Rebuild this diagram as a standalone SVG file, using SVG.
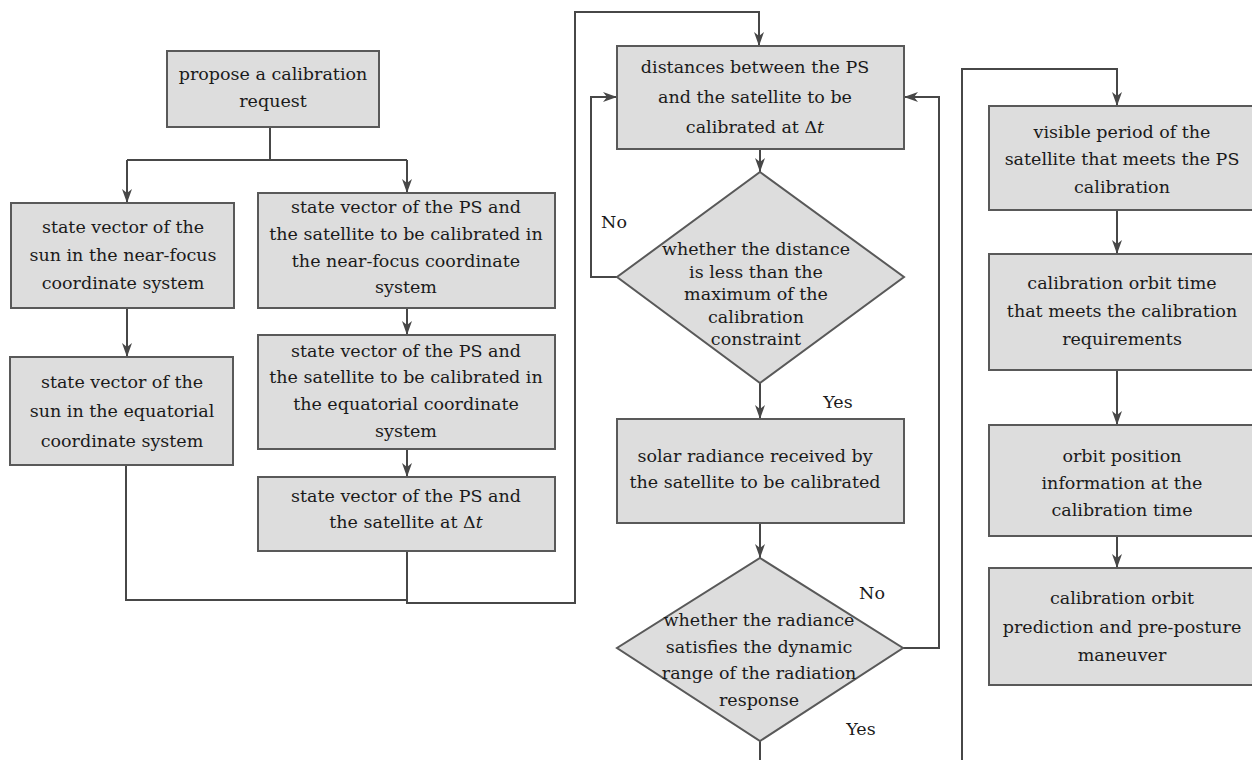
<svg xmlns="http://www.w3.org/2000/svg" width="1252" height="760" viewBox="0 0 1252 760">
<style>
.box{fill:#dddddd;stroke:#595959;stroke-width:2}
.ln{fill:none;stroke:#474747;stroke-width:2}
.arr{marker-end:url(#ah)}
text{font-family:"DejaVu Serif","Liberation Serif",serif;font-size:17.5px;fill:#1a1a1a;text-anchor:middle}
</style>
<defs>
<marker id="ah" viewBox="0 0 14 10" refX="14" refY="5" markerWidth="14" markerHeight="10" markerUnits="userSpaceOnUse" orient="auto">
<path d="M0,0 L14,5 L0,10 L4,5 z" fill="#474747"/>
</marker>
</defs>
<rect width="1252" height="760" fill="#ffffff"/>
<g id="connectors">
<path class="ln" d="M270,127 V160 M127,160 H407 M126,465 V600 H407"/>
<path class="ln arr" d="M127,160 V203"/>
<path class="ln arr" d="M407,160 V193"/>
<path class="ln arr" d="M127,308 V357"/>
<path class="ln arr" d="M407,308 V335"/>
<path class="ln arr" d="M407,449 V477"/>
<path class="ln arr" d="M407,551 V603 H575 V12 H759 V46"/>
<path class="ln arr" d="M760,149 V172"/>
<path class="ln arr" d="M760,383 V419"/>
<path class="ln arr" d="M760,523 V558"/>
<path class="ln" d="M760,741 V760"/>
<path class="ln arr" d="M617,277 H591 V97 H617"/>
<path class="ln arr" d="M903,648 H939 V97 H904"/>
<path class="ln arr" d="M962,760 V69 H1117 V106"/>
<path class="ln arr" d="M1117,210 V254"/>
<path class="ln arr" d="M1117,370 V425"/>
<path class="ln arr" d="M1117,536 V568"/>
</g>
<g id="n-propose"><rect class="box" x="167" y="51" width="212" height="76"/>
<text x="273" y="80">propose a calibration</text><text x="273" y="107">request</text></g>
<g id="n-sun-nf"><rect class="box" x="11" y="203" width="223" height="105"/>
<text x="123" y="233">state vector of the</text><text x="123" y="261">sun in the near-focus</text><text x="123" y="289">coordinate system</text></g>
<g id="n-sun-eq"><rect class="box" x="10" y="357" width="223" height="108"/>
<text x="122" y="388">state vector of the</text><text x="122" y="417">sun in the equatorial</text><text x="122" y="447">coordinate system</text></g>
<g id="n-ps-nf"><rect class="box" x="258" y="193" width="297" height="115"/>
<text x="406" y="213">state vector of the PS and</text><text x="406" y="240">the satellite to be calibrated in</text><text x="406" y="267">the near-focus coordinate</text><text x="406" y="293">system</text></g>
<g id="n-ps-eq"><rect class="box" x="258" y="335" width="297" height="114"/>
<text x="406" y="357">state vector of the PS and</text><text x="406" y="383">the satellite to be calibrated in</text><text x="406" y="410">the equatorial coordinate</text><text x="406" y="437">system</text></g>
<g id="n-ps-dt"><rect class="box" x="258" y="477" width="297" height="74"/>
<text x="406" y="502">state vector of the PS and</text><text x="406" y="528">the satellite at Δ<tspan font-style="italic">t</tspan></text></g>
<g id="n-dist"><rect class="box" x="617" y="46" width="287" height="103"/>
<text x="755" y="73">distances between the PS</text><text x="755" y="103">and the satellite to be</text><text x="755" y="133">calibrated at Δ<tspan font-style="italic">t</tspan></text></g>
<g id="n-dec1"><polygon class="box" points="760,172 904,277 760,383 617,277"/>
<text x="756" y="255">whether the distance</text><text x="756" y="278">is less than the</text><text x="756" y="300">maximum of the</text><text x="756" y="323">calibration</text><text x="756" y="345">constraint</text></g>
<g id="n-solar"><rect class="box" x="617" y="419" width="287" height="104"/>
<text x="755" y="462">solar radiance received by</text><text x="755" y="488">the satellite to be calibrated</text></g>
<g id="n-dec2"><polygon class="box" points="760,558 903,648 760,741 617,648"/>
<text x="759" y="626">whether the radiance</text><text x="759" y="653">satisfies the dynamic</text><text x="759" y="679">range of the radiation</text><text x="759" y="706">response</text></g>
<g id="labels">
<text x="614" y="228">No</text><text x="838" y="408">Yes</text><text x="872" y="599">No</text><text x="861" y="735">Yes</text>
</g>
<g id="n-visible"><rect class="box" x="989" y="106" width="270" height="104"/>
<text x="1122" y="138">visible period of the</text><text x="1122" y="165">satellite that meets the PS</text><text x="1122" y="193">calibration</text></g>
<g id="n-orbittime"><rect class="box" x="989" y="254" width="270" height="116"/>
<text x="1122" y="289">calibration orbit time</text><text x="1122" y="317">that meets the calibration</text><text x="1122" y="345">requirements</text></g>
<g id="n-position"><rect class="box" x="989" y="425" width="270" height="111"/>
<text x="1122" y="462">orbit position</text><text x="1122" y="489">information at the</text><text x="1122" y="516">calibration time</text></g>
<g id="n-predict"><rect class="box" x="989" y="568" width="270" height="117"/>
<text x="1122" y="604">calibration orbit</text><text x="1122" y="633">prediction and pre-posture</text><text x="1122" y="661">maneuver</text></g>
</svg>
